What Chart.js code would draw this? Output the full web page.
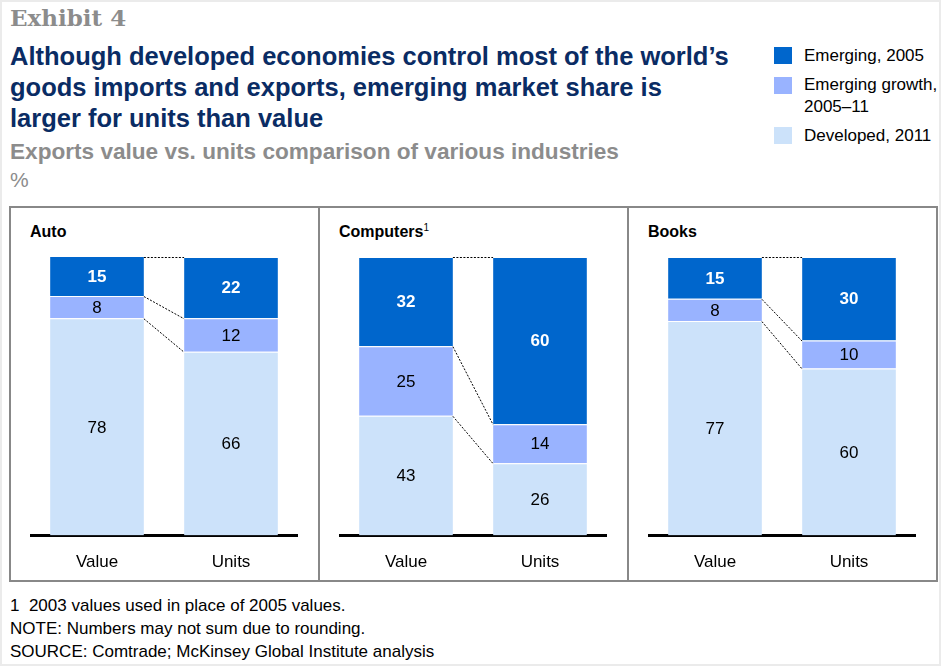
<!DOCTYPE html>
<html>
<head>
<meta charset="utf-8">
<title>Exhibit 4</title>
<script src="https://cdn.jsdelivr.net/npm/chart.js@4/dist/chart.umd.min.js"></script>
<style>
  html, body { margin: 0; padding: 0; background: #fff; }
  body { width: 941px; height: 666px; position: relative; overflow: hidden;
         font-family: "Liberation Sans", Arial, sans-serif; }
  .frame { position: absolute; left: 0; top: 0; width: 941px; height: 666px;
           box-sizing: border-box; border: 2px solid #ebebeb; }
  .exhibit { position: absolute; left: 10px; top: 4px; font-family: "DejaVu Serif", serif;
             font-weight: bold; font-size: 23px; color: #8c8c8c; }
  .headline { position: absolute; left: 10px; top: 41px; width: 724px; font-weight: bold;
              font-size: 25.5px; line-height: 31px; color: #0a2c64; }
  .subtitle { position: absolute; left: 10px; top: 139px; font-weight: bold; font-size: 22.6px;
              color: #8c8c8c; }
  .unit { position: absolute; left: 10px; top: 168px; font-size: 21px; color: #8c8c8c; }
  .legend { position: absolute; left: 774px; top: 0; font-size: 17px; color: #000; }
  .legend .sw { position: absolute; left: 0; width: 18px; height: 17px; }
  .legend .tx { position: absolute; left: 30px; white-space: nowrap; line-height: 22px; }
  .panel { position: absolute; top: 206px; width: 311px; height: 376px; box-sizing: border-box;
           border: 2px solid #888; }
  .panel h3 { position: absolute; left: 19px; top: 15px; margin: 0; font-size: 16px;
              font-weight: bold; color: #000; }
  .panel h3 sup { font-size: 10px; font-weight: normal; vertical-align: 6px; line-height: 0; }
  .panel canvas { position: absolute; left: 19px; top: 42px; }
  .notes { position: absolute; left: 10px; top: 594px; font-size: 17px; line-height: 23px; color: #000; }
</style>
</head>
<body>
<div class="frame"></div>
<div class="exhibit">Exhibit 4</div>
<div class="headline">Although developed economies control most of the world’s goods imports and exports, emerging market share is larger for units than value</div>
<div class="subtitle">Exports value vs. units comparison of various industries</div>
<div class="unit">%</div>

<div class="legend">
  <div class="sw" style="top:47px;background:#0066cc"></div>
  <div class="tx" style="top:45px">Emerging, 2005</div>
  <div class="sw" style="top:77px;background:#99b3ff"></div>
  <div class="tx" style="top:74px">Emerging growth,<br>2005–11</div>
  <div class="sw" style="top:127px;background:#cce2fa"></div>
  <div class="tx" style="top:125px">Developed, 2011</div>
</div>

<div class="panel" style="left:9px"><h3>Auto</h3><canvas id="c0" width="268" height="340"></canvas></div>
<div class="panel" style="left:318px"><h3>Computers<sup>1</sup></h3><canvas id="c1" width="268" height="340"></canvas></div>
<div class="panel" style="left:627px"><h3>Books</h3><canvas id="c2" width="268" height="340"></canvas></div>

<div class="notes">
  1&nbsp; 2003 values used in place of 2005 values.<br>
  NOTE: Numbers may not sum due to rounding.<br>
  SOURCE: Comtrade; McKinsey Global Institute analysis
</div>

<script>
'use strict';

// data, one entry per industry: [Value, Units]
var industries = ['Auto', 'Computers', 'Books'];
var measures = ['Value', 'Units'];
var emerging2005 = [[15, 22], [32, 60], [15, 30]];
var emergingGrowth = [[8, 12], [25, 14], [8, 10]];
var developed2011 = [[78, 66], [43, 26], [77, 60]];

var colors = {
    emerging: '#0066cc',
    growth: '#99b3ff',
    developed: '#cce2fa'
};

// dotted lines joining the segment edges of the two bars
var connectors = {
    id: 'connectors',
    afterDatasetsDraw: function (chart) {
        var ctx = chart.ctx,
            top = chart.chartArea.top;
        ctx.save();
        ctx.strokeStyle = '#000';
        ctx.lineWidth = 1;
        ctx.setLineDash([2, 1.5]);
        chart.data.datasets.forEach(function (ds, i) {
            var bars = chart.getDatasetMeta(i).data,
                a = bars[0], b = bars[1];
            var y1 = Math.max(a.y, top), y2 = Math.max(b.y, top);
            ctx.beginPath();
            ctx.moveTo(a.x + a.width / 2, y1 + 0.5);
            ctx.lineTo(b.x - b.width / 2, y2 + 0.5);
            ctx.stroke();
        });
        ctx.restore();
    }
};

// numbers in the middle of every segment
var segmentLabels = {
    id: 'segmentLabels',
    afterDatasetsDraw: function (chart) {
        var ctx = chart.ctx,
            top = chart.chartArea.top;
        ctx.save();
        ctx.textAlign = 'center';
        ctx.textBaseline = 'middle';
        chart.data.datasets.forEach(function (ds, i) {
            var dark = ds.label === 'Emerging, 2005';
            ctx.fillStyle = dark ? '#fff' : '#000';
            ctx.font = (dark ? 'bold ' : '') + '17px "Liberation Sans", Arial, sans-serif';
            chart.getDatasetMeta(i).data.forEach(function (bar, j) {
                var y = (Math.max(bar.y, top) + bar.base) / 2;
                ctx.fillText(ds.data[j], bar.x, y + 1);
            });
        });
        ctx.restore();
    }
};

industries.forEach(function (name, k) {
    var ctx = document.getElementById('c' + k).getContext('2d');
    new Chart(ctx, {
        type: 'bar',
        data: {
            labels: measures,
            datasets: [
                { label: 'Developed, 2011', data: developed2011[k], backgroundColor: colors.developed },
                { label: 'Emerging growth, 2005–11', data: emergingGrowth[k], backgroundColor: colors.growth },
                { label: 'Emerging, 2005', data: emerging2005[k], backgroundColor: colors.emerging }
            ]
        },
        options: {
            responsive: false,
            animation: false,
            events: [],
            layout: { padding: { top: 7, bottom: 0, left: 0, right: 0 } },
            datasets: {
                bar: {
                    categoryPercentage: 1,
                    barPercentage: 0.7,
                    borderColor: '#fff',
                    borderWidth: { top: 1 },
                    borderSkipped: false,
                    clip: 0
                }
            },
            plugins: {
                legend: { display: false },
                tooltip: { enabled: false }
            },
            scales: {
                x: {
                    stacked: true,
                    grid: { display: false, drawTicks: false },
                    border: { display: true, color: '#000', width: 3 },
                    ticks: {
                        color: '#000',
                        padding: 17,
                        font: { family: '"Liberation Sans", Arial, sans-serif', size: 17 }
                    }
                },
                y: {
                    stacked: true,
                    display: false,
                    min: 0,
                    max: 100
                }
            }
        },
        plugins: [connectors, segmentLabels]
    });
});
</script>
</body>
</html>
